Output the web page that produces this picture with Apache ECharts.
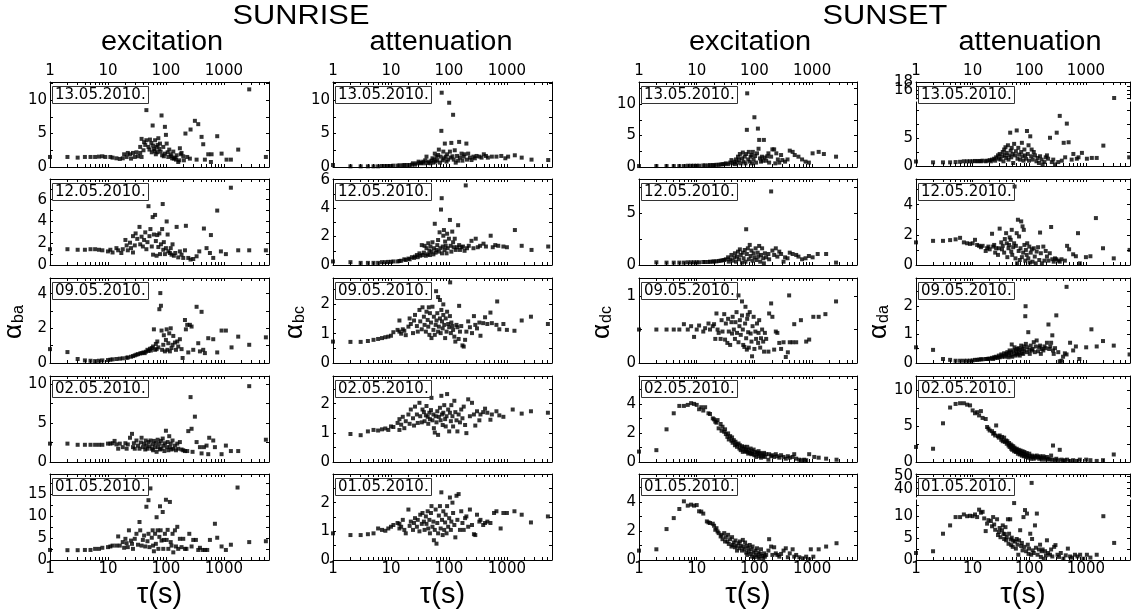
<!DOCTYPE html>
<html><head><meta charset="utf-8">
<script src="https://cdn.jsdelivr.net/npm/echarts@6/dist/echarts.min.js"></script>
<style>html,body{margin:0;padding:0;background:#fff}#c{width:1131px;height:616px}</style>
</head><body><div id="c"></div>
<script>
// ---------------- DATA ----------------
const tauLabels = [1, 10, 100, 1000];
const tauTicks = [1,2,3,4,5,6,7,8,9,10,20,30,40,50,60,70,80,90,100,200,300,400,500,600,700,800,900,1000,2000,3000,4000,5000,6000];
const TAU_MAX = 6000;
const dates = ['13.05.2010.', '12.05.2010.', '09.05.2010.', '02.05.2010.', '01.05.2010.'];
const groupTitles = ['SUNRISE', 'SUNSET'];
const columnTitles = ['excitation', 'attenuation', 'excitation', 'attenuation'];
const ySubscripts = ['ba', 'bc', 'dc', 'da'];

const yLabels_ba = [[0,5,10],[0,2,4,6],[0,2,4],[0,5,10],[0,5,10,15]];
const yLabels_bc = [[0,5,10],[0,2,4,6],[0,1,2],[0,1,2],[0,1,2]];
const yLabels_dc = [[0,5,10],[0,5],[0,1],[0,2,4],[0,2,4]];
const yLabels_da = [[[16,18],[0,5]],[0,2,4],[0,1,2],[0,5,10],[[40,50],[0,5,10]]];

// SUNRISE excitation (alpha_ba)
const ba_130510 = [[1,1.5],[2,1.5],[3,1.4],[4,1.5],[5,1.5],[6,1.5],[7,1.55],[8,1.6],[9,1.5],[11,1.5],[12,1.4],[14,1.3],[16,1.2],[18,1.3],[19,1.9],[21,1.5],[22,2.1],[24,1.9],[25,1.25],[27,2.1],[29,1.5],[31,2.2],[33,1.6],[36,2.1],[38,1.5],[41,2.5],[38,4.2],[42,3.7],[46,4.0],[46,8.5],[50,3.0],[53,4.1],[57,2.2],[59,6.2],[60,3.2],[62,2.7],[65,4.0],[69,3.0],[71,2.2],[74,4.3],[77,2.7],[79,3.5],[84,7.7],[86,1.75],[90,3.0],[96,6.0],[96,2.0],[100,4.8],[103,3.5],[107,2.2],[114,2.6],[121,1.9],[125,1.6],[134,2.3],[137,1.25],[149,1.1],[153,1.75],[163,0.75],[174,2.8],[186,2.1],[199,1.6],[204,1.0],[217,5.0],[233,1.5],[259,1.25],[266,5.6],[316,6.9],[361,6.4],[338,1.1],[412,4.5],[440,3.4],[470,1.1],[537,1.9],[597,0.75],[613,1.9],[767,4.6],[912,2.0],[1111,1.1],[1320,1.1],[1766,2.6],[2734,11.6],[5300,1.5],[36,3.0],[44,3.3],[52,2.6],[56,3.6],[64,2.4],[67,1.9],[72,3.3],[81,2.3],[92,1.6],[110,1.5],[128,1.3],[145,1.4],[170,1.0],[180,1.9]];
const ba_120510 = [[1,1.45],[2,1.45],[3,1.4],[4,1.4],[5,1.45],[6,1.45],[7,1.4],[8,1.35],[10,1.25],[11,1.4],[12,1.15],[14,1.55],[15,1.35],[17,1.1],[18,1.45],[20,2.3],[21,1.8],[22,1.35],[24,2.05],[25,1.55],[27,2.65],[27,1.15],[29,1.8],[30,2.9],[32,2.4],[35,3.5],[36,1.9],[38,2.6],[40,1.7],[42,2.3],[44,3.0],[46,1.45],[48,2.1],[50,5.4],[52,2.65],[54,3.3],[57,1.7],[59,4.4],[60,0.95],[62,2.8],[65,4.6],[67,2.2],[69,0.85],[71,2.75],[74,1.65],[77,2.9],[79,1.0],[82,1.9],[86,3.3],[88,5.6],[90,1.4],[92,2.1],[96,1.0],[100,1.55],[103,4.0],[107,2.8],[110,1.25],[117,1.1],[121,1.55],[125,0.95],[130,1.9],[137,0.85],[145,1.1],[153,3.5],[163,0.7],[174,1.25],[186,0.95],[199,0.65],[213,1.35],[221,3.6],[243,0.65],[266,0.5],[296,0.55],[338,0.8],[376,1.25],[452,3.35],[502,1.55],[574,1.1],[597,2.75],[655,0.65],[767,5.0],[888,1.25],[1082,1.0],[1320,7.1],[1766,1.35],[2734,1.35],[5300,1.35]];
const ba_090510 = [[1,0.8],[2,0.63],[3,0.23],[4,0.15],[5,0.13],[6,0.11],[7,0.13],[8,0.15],[10,0.17],[11,0.19],[12,0.21],[14,0.23],[16,0.25],[18,0.27],[21,0.3],[22,0.32],[25,0.36],[27,0.4],[29,0.44],[31,0.48],[33,0.51],[36,0.55],[38,0.57],[41,0.61],[43,0.57],[45,0.65],[48,0.76],[50,0.69],[53,0.82],[55,0.72],[57,0.86],[60,0.95],[62,1.94],[65,0.76],[67,1.1],[69,0.8],[71,1.24],[74,0.9],[77,3.1],[80,4.03],[82,3.3],[84,1.87],[86,0.76],[90,1.05],[92,1.6],[96,0.67],[100,1.33],[103,1.94],[106,0.76],[110,1.14],[114,1.71],[117,0.67],[121,2.0],[125,0.86],[130,1.05],[134,1.56],[143,1.18],[149,0.76],[157,1.24],[163,0.95],[174,1.37],[186,0.8],[194,0.29],[213,2.48],[221,1.94],[233,2.2],[243,0.61],[259,2.2],[277,2.1],[296,0.76],[338,3.24],[361,1.14],[386,0.67],[412,2.95],[440,0.76],[470,0.57],[537,1.43],[655,1.37],[767,0.61],[912,1.87],[1082,1.87],[1355,0.9],[1766,1.52],[2734,1.05],[5300,1.48]];
const ba_020510 = [[1,2.35],[2,2.35],[3,2.2],[4,2.2],[5,2.2],[6,2.2],[7,2.2],[8,2.2],[10,2.35],[11,2.35],[12,2.4],[13,2.7],[14,2.25],[15,1.7],[16,2.35],[18,1.9],[20,2.4],[21,1.7],[22,2.25],[24,3.1],[26,3.6],[27,1.9],[28,2.4],[29,1.7],[31,2.75],[33,2.1],[35,1.7],[37,2.5],[38,3.1],[40,1.9],[42,2.35],[44,1.6],[45,2.75],[46,2.1],[48,1.7],[50,2.55],[52,2.0],[54,2.75],[57,1.7],[59,2.25],[60,1.5],[62,2.7],[65,1.9],[67,2.4],[69,1.3],[72,2.85],[74,1.9],[77,2.35],[79,1.6],[82,2.7],[84,1.7],[88,3.0],[90,2.1],[94,1.4],[96,2.4],[100,4.0],[103,1.9],[107,2.55],[110,1.5],[114,3.3],[117,1.9],[121,2.35],[125,1.6],[130,2.75],[134,1.7],[143,2.1],[149,1.5],[157,2.35],[163,1.7],[174,2.55],[186,1.6],[199,1.5],[213,1.4],[233,1.4],[243,3.95],[277,4.25],[288,1.3],[266,8.3],[338,2.55],[316,5.8],[386,1.9],[412,1.1],[452,1.9],[502,2.1],[537,1.0],[558,3.1],[655,2.75],[700,1.9],[912,1.0],[1082,2.1],[1320,1.4],[1766,1.4],[2734,9.7],[5300,2.85]];
const ba_010510 = [[1,2.3],[2,2.25],[3,2.25],[4,2.3],[5,2.3],[6,2.55],[7,2.55],[8,2.8],[10,2.95],[11,3.1],[12,3.3],[14,3.3],[15,5.4],[16,3.3],[18,4.1],[19,2.8],[20,4.85],[21,3.85],[22,2.95],[23,6.8],[25,4.45],[26,3.7],[27,2.55],[29,4.85],[31,6.0],[33,3.5],[35,8.7],[36,6.8],[38,3.3],[40,4.6],[42,5.6],[44,3.1],[46,12.2],[48,4.3],[50,13.7],[50,6.0],[52,2.95],[54,16.4],[57,5.1],[59,6.8],[60,3.3],[62,2.0],[65,6.0],[67,3.7],[69,9.8],[72,6.8],[74,2.55],[77,5.3],[79,12.3],[81,6.8],[84,4.45],[88,11.0],[90,2.55],[92,4.6],[96,6.0],[100,13.8],[103,4.6],[107,6.9],[110,2.55],[117,13.3],[121,4.1],[125,3.3],[130,6.0],[134,1.75],[143,6.8],[149,3.1],[157,7.6],[163,2.55],[174,4.85],[186,2.95],[199,4.85],[213,2.55],[226,2.55],[253,6.0],[277,3.1],[296,4.6],[329,4.6],[361,2.3],[386,2.8],[429,2.3],[470,2.3],[516,2.3],[574,4.6],[700,8.3],[767,5.1],[912,3.1],[1082,2.3],[1320,3.5],[1720,16.6],[2734,4.1],[5300,4.3]];

// SUNRISE attenuation (alpha_bc)
const bc_130510 = [[1,0.3],[2,0.1],[3,0.1],[4,0.1],[5,0.1],[6,0.1],[7,0.15],[8,0.15],[9,0.15],[10,0.15],[11,0.2],[13,0.2],[14,0.25],[16,0.25],[17,0.3],[19,0.3],[21,0.3],[23,0.35],[24,0.55],[26,0.35],[28,0.55],[30,0.8],[32,0.55],[33,0.65],[36,0.8],[37,0.55],[39,1.0],[41,1.55],[43,0.6],[45,0.8],[48,0.55],[50,0.95],[52,1.3],[54,0.65],[56,1.1],[57,2.0],[59,0.8],[61,1.55],[63,1.0],[65,1.8],[67,2.6],[70,0.65],[72,1.55],[74,5.4],[75,11.1],[78,1.0],[80,2.3],[82,1.3],[85,3.5],[88,1.55],[91,0.8],[93,1.9],[97,1.1],[101,9.6],[104,2.3],[107,1.4],[110,3.6],[115,1.6],[118,7.8],[121,1.1],[126,2.5],[131,0.65],[138,1.65],[144,0.95],[150,3.75],[155,1.4],[165,2.0],[171,0.95],[180,1.55],[186,1.9],[200,3.5],[205,1.1],[215,2.0],[230,1.4],[245,1.04],[265,1.55],[280,1.3],[300,1.65],[335,1.55],[365,1.4],[400,1.9],[435,1.65],[470,1.4],[550,1.55],[660,1.55],[800,1.65],[940,1.3],[1050,1.55],[1370,1.75],[1800,1.4],[2660,1.1],[5160,1.04]];
const bc_120510 = [[1,0.25],[2,0.2],[3,0.15],[4,0.15],[5,0.15],[6,0.15],[7,0.2],[8,0.2],[9,0.22],[10,0.22],[11,0.25],[13,0.25],[14,0.28],[15,0.3],[17,0.4],[18,0.35],[20,0.45],[21,0.4],[23,0.55],[25,0.5],[26,0.59],[28,0.7],[29,0.55],[31,0.82],[32,0.65],[34,1.4],[35,0.7],[37,0.87],[38,1.35],[40,0.65],[41,1.18],[43,0.75],[44,1.53],[46,1.0],[47,0.7],[48,1.3],[50,0.94],[52,1.6],[54,0.75],[55,1.18],[57,2.9],[59,0.87],[61,1.06],[63,1.4],[65,1.76],[67,0.94],[69,2.3],[71,1.18],[73,3.9],[75,4.7],[76,0.82],[78,1.3],[80,2.06],[82,2.46],[84,1.06],[86,1.65],[88,1.35],[91,0.82],[93,2.2],[95,1.18],[100,1.85],[104,3.17],[107,1.35],[110,0.94],[114,2.35],[118,1.6],[121,1.25],[126,1.85],[131,1.06],[138,1.25],[144,2.8],[150,1.4],[155,1.06],[165,1.25],[175,1.3],[186,1.0],[195,5.6],[205,1.18],[220,1.35],[245,1.7],[265,1.18],[290,1.85],[315,1.25],[345,1.35],[395,1.5],[435,1.3],[525,2.06],[570,1.25],[630,1.4],[710,1.35],[870,1.3],[1000,1.25],[1374,2.46],[1800,1.35],[2660,1.06],[5160,1.3]];
const bc_090510 = [[1,0.73],[2,0.72],[3,0.72],[4,0.75],[5,0.79],[6,0.82],[7,0.85],[8,0.88],[9,0.9],[10,0.93],[11,1.05],[13,1.13],[14,1.45],[14,1.07],[15,1.0],[16,1.15],[17,1.1],[18,0.95],[20,1.24],[21,1.52],[22,1.33],[24,1.02],[25,1.45],[26,1.64],[28,1.26],[29,1.07],[31,1.81],[32,1.42],[34,1.15],[35,1.9],[37,1.58],[38,1.3],[40,1.07],[41,1.75],[43,1.47],[44,1.24],[46,0.96],[47,1.7],[49,1.38],[50,0.85],[52,1.92],[54,1.13],[55,1.58],[57,0.96],[59,1.3],[61,1.45],[63,1.7],[65,1.07],[67,1.24],[70,1.52],[72,1.02],[74,1.81],[76,1.42],[78,1.18],[80,1.64],[83,1.3],[86,0.85],[88,1.52],[91,1.07],[93,1.75],[97,1.33],[101,1.22],[104,1.6],[108,1.02],[110,1.38],[115,1.26],[118,1.13],[124,0.9],[129,0.73],[135,1.3],[140,1.22],[147,0.82],[155,1.07],[163,1.26],[171,0.6],[180,0.56],[190,0.79],[200,1.07],[215,1.42],[230,1.22],[250,1.02],[270,1.6],[285,1.3],[305,1.18],[335,1.38],[350,0.93],[390,1.36],[420,1.56],[460,1.33],[520,1.72],[550,1.36],[660,1.3],[740,1.15],[870,1.33],[1000,1.13],[1350,1.1],[1800,1.45],[2600,1.58],[5100,1.33],[60,2.45],[65,2.25],[70,2.15],[80,2.0],[105,2.75],[680,2.1],[150,1.95],[45,1.9]];
const bc_020510 = [[2,0.96],[3,0.92],[4,1.05],[5,1.1],[6,1.08],[7,1.12],[8,1.15],[9,1.1],[10,1.22],[11,1.2],[13,1.34],[14,1.1],[14,1.47],[15,1.28],[16,1.55],[17,1.16],[18,1.4],[20,1.63],[21,1.31],[22,1.8],[24,1.5],[25,1.25],[26,1.9],[28,1.63],[29,1.34],[31,2.03],[32,1.57],[34,1.36],[35,1.8],[37,1.71],[38,1.4],[40,1.6],[41,1.92],[43,1.55],[44,1.31],[46,1.69],[47,1.47],[49,1.78],[50,2.2],[52,1.43],[54,1.63],[55,1.16],[57,1.01],[59,1.57],[61,1.36],[63,1.74],[65,0.93],[67,1.55],[70,1.86],[72,1.43],[74,2.27],[76,1.63],[78,1.27],[80,1.69],[83,1.95],[86,1.47],[88,1.22],[91,1.57],[93,2.33],[97,1.8],[101,1.05],[104,1.69],[108,1.4],[110,1.95],[115,1.57],[118,1.22],[124,2.1],[129,1.71],[135,1.43],[140,1.05],[147,1.63],[155,1.36],[163,1.8],[171,1.5],[180,1.9],[190,1.27],[200,0.99],[215,2.15],[230,1.57],[250,2.03],[270,1.63],[285,1.25],[305,1.74],[335,1.43],[350,1.63],[390,1.71],[420,1.83],[460,1.69],[520,1.45],[550,1.63],[660,1.74],[740,1.6],[870,1.55],[1260,1.8],[1800,1.66],[2600,1.74],[5100,1.69]];
const bc_010510 = [[1,0.93],[2,0.87],[3,0.87],[4,0.9],[5,0.93],[6,1.1],[7,1.05],[8,1.02],[9,1.1],[10,1.16],[11,1.22],[13,1.29],[14,1.1],[14,1.26],[15,1.16],[16,1.4],[17,1.05],[18,0.93],[20,1.76],[21,1.19],[22,1.34],[24,1.05],[25,1.29],[26,1.46],[28,1.16],[29,1.4],[31,1.0],[32,1.58],[34,1.26],[35,1.64],[37,1.34],[38,1.05],[40,1.52],[41,1.26],[43,1.7],[44,1.1],[46,1.4],[47,0.93],[49,1.64],[50,1.88],[52,1.16],[54,1.34],[55,0.69],[57,1.05],[59,1.76],[61,0.57],[63,1.29],[65,0.93],[67,1.55],[70,1.88],[72,1.1],[74,2.36],[76,1.4],[78,0.87],[80,1.7],[83,1.05],[86,1.31],[88,1.58],[91,0.93],[93,1.88],[97,1.16],[101,1.46],[104,2.18],[108,1.05],[110,1.34],[115,2.0],[118,1.64],[124,1.22],[129,0.79],[135,2.24],[140,1.4],[147,2.3],[155,1.05],[163,1.7],[171,1.29],[180,1.05],[190,1.46],[200,1.52],[215,1.16],[230,1.76],[250,1.22],[270,0.9],[285,0.87],[305,1.58],[335,1.34],[350,1.4],[390,1.22],[420,1.29],[460,1.34],[520,1.29],[600,1.64],[660,1.7],[780,1.1],[870,1.64],[1000,1.64],[1350,1.7],[1800,1.58],[2600,1.31],[5100,1.52]];

// SUNSET excitation (alpha_dc)
const dc_130510 = [[1,0.15],[2,0.15],[3,0.15],[4,0.15],[5,0.15],[6,0.15],[7,0.2],[8,0.2],[9,0.2],[10,0.2],[11,0.2],[13,0.25],[14,0.25],[16,0.25],[17,0.3],[19,0.3],[20,0.3],[22,0.35],[24,0.35],[26,0.4],[28,0.45],[30,0.45],[32,0.58],[35,0.45],[38,0.7],[40,1.1],[42,0.58],[45,0.85],[46,0.45],[48,1.2],[50,0.7],[52,1.64],[54,1.1],[56,2.06],[58,0.58],[61,1.37],[63,2.3],[65,0.85],[68,1.64],[70,0.58],[72,2.06],[74,5.9],[75,11.7],[78,1.2],[80,2.4],[83,0.85],[86,1.64],[89,1.9],[91,0.58],[94,2.4],[97,1.2],[100,7.9],[103,1.75],[107,0.7],[111,2.17],[115,6.1],[118,2.9],[121,4.3],[125,1.37],[130,0.85],[135,1.64],[140,1.0],[146,4.3],[150,1.5],[160,1.0],[167,1.7],[175,2.17],[180,0.7],[195,1.64],[205,2.8],[220,2.8],[230,0.58],[240,2.17],[255,1.2],[270,0.7],[290,1.9],[305,1.1],[340,0.85],[375,1.2],[410,2.6],[460,2.4],[500,1.9],[580,1.64],[670,1.2],[770,0.85],[880,0.7],[1020,2.17],[1300,2.4],[1600,2.06],[2600,1.64]];
const dc_120510 = [[2,0.26],[3,0.23],[4,0.23],[5,0.23],[6,0.23],[7,0.26],[8,0.26],[9,0.26],[10,0.26],[11,0.26],[13,0.29],[14,0.29],[16,0.29],[17,0.32],[19,0.32],[20,0.35],[22,0.35],[24,0.39],[26,0.42],[28,0.45],[30,0.48],[32,0.55],[35,0.74],[36,0.32],[38,0.55],[40,0.97],[42,0.42],[45,0.74],[46,1.13],[48,0.32],[50,0.81],[52,1.29],[54,0.55],[56,1.51],[58,0.97],[61,0.23],[63,1.19],[65,0.65],[68,1.45],[70,0.32],[72,3.45],[74,1.06],[77,1.61],[80,0.55],[83,1.94],[86,0.87],[89,1.39],[93,0.42],[97,1.13],[101,0.74],[105,1.61],[109,0.48],[114,1.19],[118,0.81],[121,1.84],[126,0.32],[130,0.97],[136,1.61],[142,0.65],[146,0.16],[152,1.13],[160,0.74],[175,1.06],[180,0.55],[195,7.1],[205,1.39],[220,0.97],[235,1.61],[250,0.81],[270,1.29],[290,1.06],[320,0.32],[340,0.74],[375,0.65],[410,1.19],[460,1.06],[530,0.97],[580,0.81],[670,0.55],[770,0.65],[880,0.87],[1020,0.74],[1250,1.06],[1750,1.06],[2600,0.23]];
const dc_090510 = [[1,0.5],[2,0.5],[3,0.5],[4,0.5],[5,0.5],[6,0.58],[7,0.5],[8,0.55],[9,0.39],[10,0.5],[11,0.56],[13,0.47],[14,0.52],[16,0.59],[17,0.5],[19,0.55],[20,0.58],[21,0.36],[22,0.74],[23,0.5],[24,0.45],[26,0.36],[27,0.64],[28,0.47],[30,0.73],[31,0.35],[32,0.59],[34,0.3],[35,0.66],[36,0.47],[38,0.27],[40,0.61],[41,0.44],[42,0.69],[44,0.5],[46,0.36],[47,0.61],[49,0.76],[50,0.45],[53,0.31],[55,0.55],[56,0.64],[58,0.42],[61,0.71],[63,0.5],[64,0.27],[67,0.24],[69,0.59],[72,0.37],[74,0.2],[75,0.66],[78,0.46],[80,0.23],[83,0.76],[86,0.44],[89,0.32],[91,0.1],[93,0.55],[97,0.69],[100,0.21],[104,0.47],[107,0.36],[111,0.59],[116,0.3],[118,0.45],[121,0.64],[126,0.23],[130,0.37],[136,0.5],[142,0.32],[147,0.17],[152,0.45],[160,0.36],[175,0.17],[180,0.74],[195,0.89],[205,0.69],[220,0.2],[235,0.47],[250,0.45],[270,0.3],[290,0.21],[320,0.31],[350,0.09],[380,0.16],[410,0.31],[460,0.31],[490,0.58],[530,0.31],[640,0.64],[790,0.32],[890,0.35],[1050,0.69],[1300,0.69],[1700,0.73],[2600,0.92],[53,1.01],[61,0.92],[70,0.84],[77,0.72],[400,1.01]];
const dc_020510 = [[1,0.72],[2,0.82],[3,2.26],[4,3.37],[5,3.88],[6,3.88],[7,3.95],[8,4.07],[9,4.02],[10,3.95],[11,3.65],[12,3.79],[13,3.56],[14,3.79],[16,3.37],[17,3.32],[19,3.02],[20,2.95],[21,2.79],[22,2.72],[23,2.9],[24,2.33],[26,2.63],[27,2.16],[28,2.44],[30,2.09],[31,2.26],[32,1.93],[34,1.74],[35,1.98],[36,1.56],[38,1.79],[40,1.47],[41,1.7],[42,1.33],[44,1.51],[46,1.16],[47,1.4],[49,1.23],[50,1.05],[53,1.28],[55,0.93],[56,1.16],[58,0.82],[61,1.09],[63,0.7],[64,0.93],[67,1.05],[69,0.75],[72,0.86],[74,0.7],[75,1.05],[78,0.58],[80,0.82],[83,0.63],[86,0.93],[89,0.54],[91,0.75],[93,0.58],[97,0.86],[100,0.47],[104,0.7],[107,0.35],[111,0.63],[116,0.54],[118,0.75],[121,0.4],[126,0.63],[130,0.3],[136,0.54],[142,0.4],[147,0.63],[152,0.35],[160,0.54],[175,0.16],[180,0.54],[195,0.4],[205,0.47],[220,0.35],[235,0.54],[250,0.4],[270,0.3],[290,0.47],[320,0.35],[350,0.23],[380,0.4],[410,0.3],[460,0.35],[490,0.54],[530,0.23],[600,0.16],[670,0.12],[730,0.16],[790,0.12],[890,0.54],[1090,0.35],[1300,0.3],[1750,0.23],[2650,0.16]];
const dc_010510 = [[1,0.65],[2,0.74],[3,2.14],[4,2.9],[5,3.53],[6,4.06],[7,3.76],[8,3.83],[9,3.76],[10,3.8],[11,3.37],[12,3.35],[13,3.21],[15,2.67],[16,2.6],[17,2.56],[19,2.51],[20,2.37],[21,2.09],[22,2.2],[23,1.97],[24,1.86],[26,1.63],[27,1.74],[28,1.44],[30,1.86],[31,1.28],[32,1.58],[34,1.28],[35,1.74],[36,1.11],[38,1.44],[40,0.93],[41,1.58],[42,1.04],[44,1.21],[46,0.88],[47,1.35],[49,0.98],[50,0.65],[53,1.16],[55,0.81],[56,1.28],[58,0.98],[61,0.65],[63,1.39],[64,0.93],[67,0.74],[69,1.21],[72,0.51],[74,0.98],[75,0.35],[78,0.81],[80,0.58],[83,1.04],[86,0.42],[89,0.74],[91,0.23],[93,0.93],[97,0.51],[100,0.19],[104,0.65],[107,0.35],[111,0.81],[116,0.23],[118,0.51],[121,0.12],[126,0.42],[130,0.74],[136,0.28],[142,0.12],[147,0.46],[152,0.23],[160,0.35],[175,0.65],[180,1.44],[195,0.93],[205,0.35],[220,0.88],[235,0.46],[250,0.35],[270,0.23],[290,0.42],[320,0.65],[350,0.81],[380,0.19],[410,0.46],[460,0.74],[490,0.23],[530,0.35],[600,0.19],[690,0.12],[790,0.23],[890,0.05],[950,0.74],[1050,0.23],[1300,0.74],[1750,0.93],[2650,1.16]];

// SUNSET attenuation (alpha_da)
const da_130510 = [[1,0.8],[2,0.65],[3,0.65],[4,0.65],[5,0.7],[6,0.75],[7,0.84],[8,0.84],[9,0.84],[10,0.84],[11,0.9],[12,0.84],[13,0.9],[14,0.84],[15,0.95],[17,0.84],[18,0.95],[20,1.05],[21,0.84],[22,1.14],[24,1.3],[25,0.95],[26,1.55],[28,1.9],[29,1.3],[30,2.15],[31,1.14],[33,1.74],[34,2.5],[35,0.84],[36,2.94],[37,1.9],[38,3.35],[39,1.44],[40,2.34],[42,3.7],[43,1.14],[44,1.9],[46,5.95],[47,2.75],[48,1.55],[49,3.24],[51,2.15],[52,0.54],[54,3.95],[56,1.9],[58,2.64],[60,6.35],[62,1.3],[64,3.24],[66,2.04],[69,1.14],[72,2.5],[74,4.14],[76,1.74],[79,0.95],[82,2.94],[84,1.9],[88,1.3],[91,6.25],[94,2.15],[97,3.7],[99,0.95],[104,5.3],[108,1.74],[110,2.94],[115,1.14],[120,2.5],[126,1.9],[134,0.84],[140,1.44],[148,0.54],[155,1.74],[165,1.14],[172,0.3],[185,0.7],[195,1.55],[205,1.9],[215,1.3],[232,5.04],[250,0.7],[265,1.14],[285,0.3],[305,5.95],[325,0.7],[345,8.95],[375,0.95],[405,4.14],[430,1.55],[460,7.57],[495,4.24],[560,1.14],[600,2.15],[690,1.3],[740,1.55],[850,2.34],[1040,1.3],[1270,1.44],[1550,1.44],[2030,3.64],[3150,14.0],[5800,1.55]];
const da_120510 = [[1,1.5],[2,1.6],[3,1.6],[4,1.65],[5,1.7],[6,1.8],[7,1.5],[8,1.44],[9,1.4],[10,1.44],[11,1.67],[12,1.33],[13,1.27],[14,1.18],[15,1.27],[17,0.93],[18,1.11],[19,1.22],[20,1.04],[22,2.07],[23,1.22],[24,1.33],[25,0.82],[26,1.11],[28,0.67],[29,1.11],[30,2.41],[32,1.5],[33,1.04],[34,1.27],[36,0.82],[37,1.72],[39,2.11],[40,1.44],[41,0.52],[43,1.11],[44,1.33],[45,1.83],[47,1.67],[48,0.89],[49,2.33],[50,0.67],[52,1.18],[54,1.44],[55,5.2],[57,0.44],[58,1.27],[60,2.11],[61,0.11],[63,3.0],[65,0.93],[66,1.89],[68,0.33],[70,1.11],[72,2.89],[74,0.52],[76,2.56],[78,0.82],[80,2.33],[82,1.33],[85,0.29],[87,1.0],[90,0.67],[92,1.44],[96,0.44],[100,1.22],[102,0.16],[106,0.82],[111,1.04],[114,0.22],[120,1.11],[125,0.56],[130,0.11],[135,0.89],[143,1.18],[150,0.33],[155,2.15],[160,0.78],[167,0.11],[177,1.22],[185,0.29],[195,0.93],[205,0.56],[218,0.29],[230,0.78],[243,2.52],[255,0.38],[270,0.22],[285,0.44],[300,0.38],[325,0.29],[345,0.22],[370,0.38],[425,0.29],[465,1.27],[505,1.04],[595,0.71],[665,0.58],[725,2.11],[780,0.11],[1000,0.52],[1200,0.58],[1500,3.11],[2000,1.11],[3100,0.44],[5900,1.0]];
const da_090510 = [[1,0.55],[2,0.46],[3,0.14],[4,0.11],[5,0.08],[6,0.08],[7,0.08],[8,0.08],[9,0.08],[10,0.09],[11,0.11],[12,0.11],[13,0.12],[14,0.13],[15,0.13],[17,0.14],[18,0.14],[19,0.15],[20,0.15],[22,0.18],[23,0.14],[24,0.2],[25,0.18],[26,0.22],[28,0.18],[29,0.26],[30,0.2],[32,0.3],[33,0.22],[34,0.26],[36,0.34],[37,0.22],[39,0.32],[40,0.26],[41,0.38],[43,0.2],[44,0.34],[45,0.44],[47,0.26],[48,0.38],[49,0.65],[50,0.22],[52,0.44],[54,0.32],[55,0.55],[57,0.26],[58,0.44],[60,0.34],[61,0.49],[63,0.3],[65,0.52],[66,0.38],[68,0.26],[70,0.46],[72,0.61],[74,0.34],[76,0.49],[78,0.32],[80,0.58],[82,0.44],[85,1.64],[86,1.99],[87,0.67],[90,0.38],[92,0.55],[96,1.08],[100,0.46],[102,0.32],[106,0.61],[111,0.44],[114,0.49],[120,0.73],[125,0.38],[130,0.58],[135,0.79],[143,0.41],[150,0.55],[155,0.61],[160,0.32],[167,0.49],[177,0.44],[185,0.58],[195,0.52],[205,0.71],[218,1.35],[225,0.49],[235,0.58],[243,0.71],[255,0.97],[262,0.44],[270,0.32],[285,0.52],[300,1.67],[325,0.38],[345,0.06],[370,0.08],[395,0.22],[425,0.34],[455,0.3],[525,0.71],[595,0.44],[665,0.58],[765,0.14],[1010,0.55],[1250,1.18],[1550,0.58],[2000,0.77],[3100,0.61],[5900,0.3],[455,2.67]];
const da_020510 = [[1,2.1],[2,1.85],[3,5.4],[4,7.6],[5,8.1],[6,8.2],[7,8.2],[8,8.0],[9,7.9],[10,7.2],[11,6.8],[12,6.95],[13,6.5],[14,7.1],[15,6.15],[17,6.0],[18,4.88],[19,4.65],[20,4.4],[22,4.3],[23,3.95],[24,4.05],[25,3.7],[26,5.1],[28,3.6],[29,3.4],[30,3.7],[32,3.1],[33,3.5],[34,2.9],[36,3.4],[37,2.8],[39,3.0],[40,2.55],[41,2.9],[43,2.3],[44,2.65],[45,2.1],[47,2.45],[48,1.85],[49,2.3],[50,1.7],[52,2.2],[54,1.5],[55,2.0],[57,1.7],[58,1.4],[60,1.85],[61,1.5],[63,1.16],[65,1.7],[66,1.4],[68,1.05],[70,1.6],[72,1.25],[74,0.9],[76,1.5],[78,1.16],[80,0.8],[82,1.4],[85,1.05],[87,0.7],[90,1.25],[92,0.9],[96,0.6],[100,1.16],[102,0.8],[106,0.45],[111,0.9],[114,0.7],[120,0.45],[125,0.8],[130,0.6],[135,0.9],[143,0.7],[150,0.45],[155,0.8],[160,0.6],[167,0.33],[177,0.8],[185,0.6],[195,0.33],[205,0.7],[218,0.45],[230,0.33],[243,0.9],[255,0.33],[262,2.3],[280,0.25],[300,0.45],[325,0.25],[345,1.7],[370,0.33],[395,0.15],[425,0.25],[465,0.33],[525,0.15],[595,0.25],[690,0.15],[780,0.33],[1010,0.33],[1200,0.25],[1550,0.15],[2000,0.25],[3100,1.05]];
const da_010510 = [[1,1.6],[2,2.0],[3,6.0],[4,7.9],[5,9.8],[6,9.8],[7,10.4],[8,10.0],[9,10.1],[10,10.0],[11,10.4],[12,9.8],[13,11.5],[14,10.8],[15,11.0],[16,9.5],[17,6.6],[18,8.3],[19,9.1],[21,8.9],[22,7.7],[23,9.8],[24,8.1],[25,6.9],[27,9.3],[28,5.7],[29,6.4],[30,7.3],[31,5.2],[33,6.8],[34,7.9],[35,6.0],[36,4.8],[37,5.9],[38,7.5],[39,4.5],[40,5.2],[42,9.3],[43,3.7],[44,6.0],[46,9.3],[47,4.7],[48,3.4],[49,5.1],[51,3.0],[52,4.4],[54,13.0],[56,4.2],[58,2.6],[60,4.8],[62,3.5],[64,1.2],[66,4.5],[69,6.8],[72,3.2],[74,3.9],[76,2.2],[79,9.8],[82,3.0],[84,11.4],[88,2.0],[91,10.6],[94,3.5],[97,1.4],[99,2.6],[104,6.0],[108,1.2],[110,44.6],[112,4.8],[115,2.2],[120,1.6],[126,7.9],[131,2.8],[136,10.6],[140,1.2],[148,2.4],[155,3.5],[160,0.7],[165,2.0],[172,2.4],[180,0.3],[190,2.0],[197,1.07],[205,4.5],[215,1.6],[232,1.2],[243,2.4],[255,0.8],[275,3.0],[290,3.4],[315,1.2],[335,0.7],[360,1.6],[400,0.3],[440,1.07],[480,2.6],[525,0.8],[570,0.55],[640,1.2],[710,0.8],[790,1.2],[900,0.3],[1040,1.2],[1200,0.55],[1550,1.2],[2030,10.0],[3150,3.9]];

// ---------------- LAYOUT ----------------
const colLeft = [50, 333, 639, 916];
const colWidth = [219, 219, 218, 214];
const rowTop = [82, 179, 278, 376, 474];
const rowHeight = [85, 86, 85, 86, 86];

const columns = [
  {sub: ySubscripts[0], nameX: 21.5, titleX: 162, data: [ba_130510, ba_120510, ba_090510, ba_020510, ba_010510],
   segs: [
     [{min:0,max:12.7,step:2.5,labels:yLabels_ba[0]}],
     [{min:0,max:7.9,step:1,labels:yLabels_ba[1]}],
     [{min:0,max:4.9,step:1,labels:yLabels_ba[2]}],
     [{min:0,max:11,step:2.5,labels:yLabels_ba[3]}],
     [{min:0,max:19.7,step:2.5,labels:yLabels_ba[4]}]]},
  {sub: ySubscripts[1], nameX: 302.5, titleX: 441, data: [bc_130510, bc_120510, bc_090510, bc_020510, bc_010510],
   segs: [
     [{min:0,max:12.7,step:2.5,labels:yLabels_bc[0]}],
     [{min:0,max:6.05,step:1,labels:yLabels_bc[1]}],
     [{min:0,max:2.9,step:0.5,labels:yLabels_bc[2]}],
     [{min:0,max:2.95,step:0.5,labels:yLabels_bc[3]}],
     [{min:0,max:3.0,step:0.5,labels:yLabels_bc[4]}]]},
  {sub: ySubscripts[2], nameX: 609.5, titleX: 750, data: [dc_130510, dc_120510, dc_090510, dc_020510, dc_010510],
   segs: [
     [{min:0,max:13.5,step:2.5,labels:yLabels_dc[0]}],
     [{min:0,max:8.3,step:2.5,labels:yLabels_dc[1]}],
     [{min:0,max:1.27,step:0.5,labels:yLabels_dc[2]}],
     [{min:0,max:5.95,step:1,labels:yLabels_dc[3]}],
     [{min:0,max:5.95,step:1,labels:yLabels_dc[4]}]]},
  {sub: ySubscripts[3], nameX: 886.5, titleX: 1030, data: [da_130510, da_120510, da_090510, da_020510, da_010510],
   segs: [
     [{min:13.75,max:18,step:1,labels:yLabels_da[0][0],t:82,h:17},{min:0,max:11.43,step:2.5,labels:yLabels_da[0][1],t:102,h:64}],
     [{min:0,max:5.7,step:1,labels:yLabels_da[1]}],
     [{min:0,max:2.98,step:0.5,labels:yLabels_da[2]}],
     [{min:0,max:12,step:2.5,labels:yLabels_da[3]}],
     [{min:33.5,max:51.6,step:5,labels:yLabels_da[4][0],t:474,h:23},{min:0,max:13.7,step:2.5,labels:yLabels_da[4][1],t:500,h:60}]]}
];

// ---------------- BUILD ----------------
const AXIS_FONT = 'DejaVu Sans';
const option = {
  animation: false, backgroundColor: '#ffffff',
  grid: [], xAxis: [], yAxis: [], series: [], title: [], graphic: {elements: []}
};

function yTicks(seg) {
  const out = [];
  const start = Math.ceil(seg.min / seg.step - 1e-9) * seg.step;
  for (let v = start; v <= seg.max + 1e-9; v += seg.step) out.push(+v.toFixed(4));
  return out;
}

function xAxisCfg(gi, pos, showLine, showLabels, withName) {
  return {
    type: 'log', logBase: 10, min: 1, max: TAU_MAX, gridIndex: gi, position: pos,
    axisLine: {show: showLine, onZero: false, lineStyle: {color: '#000', width: 1}},
    axisTick: {show: showLine, inside: true, length: 3, customValues: tauTicks, lineStyle: {color: '#000', width: 1}},
    minorTick: {show: false}, splitLine: {show: false},
    axisLabel: {show: showLabels, customValues: tauLabels, margin: pos === 'top' ? 3 : 2, hideOverlap: false,
      formatter: v => String(Math.round(v)),
      color: '#000', fontSize: 15, fontFamily: AXIS_FONT},
    name: withName ? 'τ(s)' : '', nameLocation: 'middle', nameGap: 20, nameMoveOverlap: false,
    nameTextStyle: {fontSize: 29, fontFamily: 'Liberation Sans', color: '#000'}
  };
}
function yAxisCfg(gi, pos, seg, labels, showLine) {
  return {
    type: 'value', gridIndex: gi, position: pos, min: seg.min, max: seg.max,
    axisLine: {show: showLine, onZero: false, lineStyle: {color: '#000', width: 1}},
    axisTick: {show: showLine, inside: true, length: 3, customValues: yTicks(seg), lineStyle: {color: '#000', width: 1}},
    splitLine: {show: false},
    axisLabel: {show: labels.length > 0, customValues: labels.length ? labels : [seg.min], margin: 3, hideOverlap: false,
      formatter: v => String(Math.round(v * 100) / 100),
      color: '#000', fontSize: 15, fontFamily: AXIS_FONT}
  };
}

columns.forEach((col, c) => {
  for (let r = 0; r < 5; r++) {
    const segs = col.segs[r];
    const data = col.data[r];
    segs.forEach((seg, s) => {
      const gi = option.grid.length;
      const top = seg.t !== undefined ? seg.t : rowTop[r];
      const h = seg.h !== undefined ? seg.h : rowHeight[r];
      const first = s === 0, last = s === segs.length - 1;
      option.grid.push({left: colLeft[c], top: top, width: colWidth[c], height: h,
        show: false, containLabel: false, outerBoundsMode: 'none'});
      const xi = option.xAxis.length;
      option.xAxis.push(xAxisCfg(gi, 'bottom', last, last && r === 4, last && r === 4));
      option.xAxis.push(xAxisCfg(gi, 'top', first, first && r === 0, false));
      const yi = option.yAxis.length;
      const broken = segs.length > 1 && first;
      // crowded upper segment of a broken axis: put its top label on a separate (line-less) axis
      const mainLabels = broken ? seg.labels.slice(0, 1) : seg.labels;
      option.yAxis.push(yAxisCfg(gi, 'left', seg, mainLabels, true));
      option.yAxis.push(yAxisCfg(gi, 'right', seg, [], true));
      if (broken) option.yAxis.push(yAxisCfg(gi, 'left', seg, seg.labels.slice(1), false));
      const pts = segs.length > 1 ? data.filter(p => p[1] >= seg.min && p[1] <= seg.max) : data;
      option.series.push({
        type: 'scatter', xAxisIndex: xi, yAxisIndex: yi, data: pts,
        symbol: 'rect', symbolSize: 4, itemStyle: {color: '#000'}, silent: true, z: 3
      });
    });
    option.title.push({
      text: dates[r], left: colLeft[c] + 2, top: rowTop[r] + 4,
      padding: [2, 3, 1, 3], borderWidth: 1, borderColor: '#333',
      textStyle: {fontSize: 15, fontFamily: AXIS_FONT, fontWeight: 'normal', color: '#000'}
    });
  }
  option.graphic.elements.push({
    type: 'text', x: col.titleX, y: 43, scaleX: 1.07,
    style: {text: columnTitles[c], fontSize: 27, fontFamily: 'Liberation Sans', fill: '#000', align: 'center', verticalAlign: 'middle'}
  });
  option.graphic.elements.push({
    type: 'group', x: col.nameX, y: 339, rotation: Math.PI / 2,
    children: [
      {type: 'text', x: 0, y: 5.5, style: {text: 'α', fontSize: 26, fontFamily: 'Liberation Sans', fill: '#000', align: 'left', verticalAlign: 'bottom'}},
      {type: 'text', x: 16, y: 5.4, style: {text: col.sub, fontSize: 16, fontFamily: 'Liberation Sans', fill: '#000', align: 'left', verticalAlign: 'bottom'}}
    ]
  });
});
[301, 885].forEach((x, i) => {
  option.graphic.elements.push({
    type: 'text', x: x, y: 17, scaleX: 1.14,
    style: {text: groupTitles[i], fontSize: 27, fontFamily: 'Liberation Sans', fill: '#000', align: 'center', verticalAlign: 'middle'}
  });
});

const chart = echarts.init(document.getElementById('c'), null, {renderer: 'canvas'});
chart.setOption(option);
</script></body></html>
